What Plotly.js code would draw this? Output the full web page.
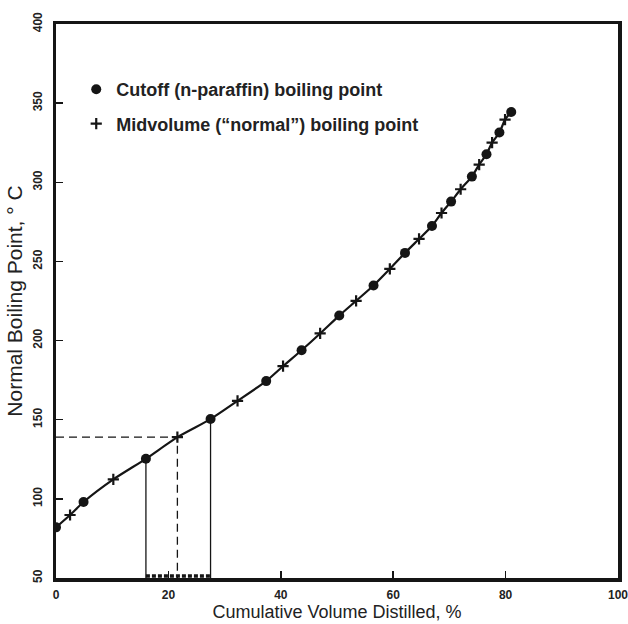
<!DOCTYPE html>
<html>
<head>
<meta charset="utf-8">
<script src="https://cdn.plot.ly/plotly-3.0.1.min.js"></script>
<style>html,body{margin:0;padding:0;background:#fff;}#chart{width:628px;height:624px;}</style>
</head>
<body>
<div id="chart"></div>
<script>
// Cutoff (n-paraffin) boiling points
const cutoffX = [0, 4.9, 16.0, 27.5, 37.4, 43.7, 50.4, 56.5, 62.1, 66.9, 70.3, 74.0, 76.6, 78.9, 81.0];
const cutoffY = [82, 98, 125.3, 150.4, 174.4, 193.9, 215.8, 234.8, 255.4, 272.4, 287.8, 303.6, 317.7, 331.4, 344.4];
// Midvolume ("normal") boiling points
const midX = [2.5, 10.2, 21.6, 32.3, 40.4, 47.0, 53.4, 59.4, 64.6, 68.6, 72.0, 75.3, 77.6, 79.9];
const midY = [89.8, 112.3, 139, 161.9, 183.8, 204.5, 225.1, 245.3, 264.2, 280.6, 295.6, 311.2, 325.1, 339.6];
// Example construction lines
const exampleCutX = [16.0, 27.5];
const exampleCutY = [125.3, 150.4];
const exampleMidX = 21.6;
const exampleMidY = 139;
const yBase = 50;
const stripY = 51.3;

const legendNames = ['Cutoff (n-paraffin) boiling point', 'Midvolume (\u201cnormal\u201d) boiling point'];
const xTicks = [0, 20, 40, 60, 80, 100];
const yTicks = [50, 100, 150, 200, 250, 300, 350, 400];

// merged curve
const curve = cutoffX.map((x, i) => [x, cutoffY[i]]).concat(midX.map((x, i) => [x, midY[i]])).sort((a, b) => a[0] - b[0]);

const ink = '#151515';
const traces = [
  {x: curve.map(p => p[0]), y: curve.map(p => p[1]), mode: 'lines', line: {color: ink, width: 2.2, shape: 'spline', smoothing: 0.6}, showlegend: false, hoverinfo: 'skip'},
  {x: [exampleCutX[0], exampleCutX[0]], y: [exampleCutY[0], yBase], mode: 'lines', line: {color: ink, width: 1.3}, showlegend: false},
  {x: [exampleCutX[1], exampleCutX[1]], y: [exampleCutY[1], yBase], mode: 'lines', line: {color: ink, width: 1.3}, showlegend: false},
  {x: [0, exampleMidX, exampleMidX], y: [exampleMidY, exampleMidY, yBase], mode: 'lines', line: {color: ink, width: 1.3, dash: '8px,5px'}, showlegend: false},
  {x: exampleCutX, y: [stripY, stripY], mode: 'lines', line: {color: ink, width: 3.5, dash: '4px,2px'}, showlegend: false},
  {x: cutoffX, y: cutoffY, mode: 'markers', name: legendNames[0], legendgroup: 'a', marker: {symbol: 'circle', size: 10, color: ink}},
  {x: midX, y: midY, mode: 'markers', name: legendNames[1], legendgroup: 'b', marker: {symbol: 'cross-thin', size: 8, color: ink, line: {color: ink, width: 2.2}}}
];

const tickFont = {family: 'Liberation Sans, Arial, sans-serif', size: 12, color: '#222', weight: 'bold'};

const layout = {
  width: 628, height: 624,
  margin: {l: 56, r: 10, t: 24, b: 46},
  paper_bgcolor: '#fff', plot_bgcolor: '#fff',
  showlegend: true,
  legend: {x: 0.036, y: 0.915, xanchor: 'left', yanchor: 'top', bgcolor: 'rgba(0,0,0,0)',
    font: {family: 'Liberation Sans, Arial, sans-serif', size: 18, color: '#222', weight: 'bold'},
    traceorder: 'grouped', tracegroupgap: 8, itemwidth: 30},
  xaxis: {range: [0, 100], tickvals: xTicks, ticktext: xTicks.map(String), showgrid: false, zeroline: false,
    showline: true, mirror: true, linecolor: ink, linewidth: 3.5, ticks: 'inside', ticklen: 7, tickwidth: 1.5, tickcolor: ink,
    ticklabelstandoff: 3, ticklabeloverflow: 'allow', tickfont: tickFont,
    title: {text: 'Cumulative Volume Distilled, %', standoff: 2, font: {family: 'Liberation Sans, Arial, sans-serif', size: 18, color: '#222'}}},
  yaxis: {range: [50, 400], tickvals: yTicks, ticktext: yTicks.map(String), showgrid: false, zeroline: false,
    showline: true, mirror: true, linecolor: ink, linewidth: 3.5, ticks: 'inside', ticklen: 7, tickwidth: 1.5, tickcolor: ink,
    tickangle: -90, ticklabelstandoff: 6, ticklabeloverflow: 'allow', tickfont: tickFont,
    title: {text: 'Normal Boiling Point, \u00b0 C', standoff: 3, font: {family: 'Liberation Sans, Arial, sans-serif', size: 21, color: '#222'}}}
};

Plotly.newPlot('chart', traces, layout, {displayModeBar: false, staticPlot: true});
</script>
</body>
</html>
